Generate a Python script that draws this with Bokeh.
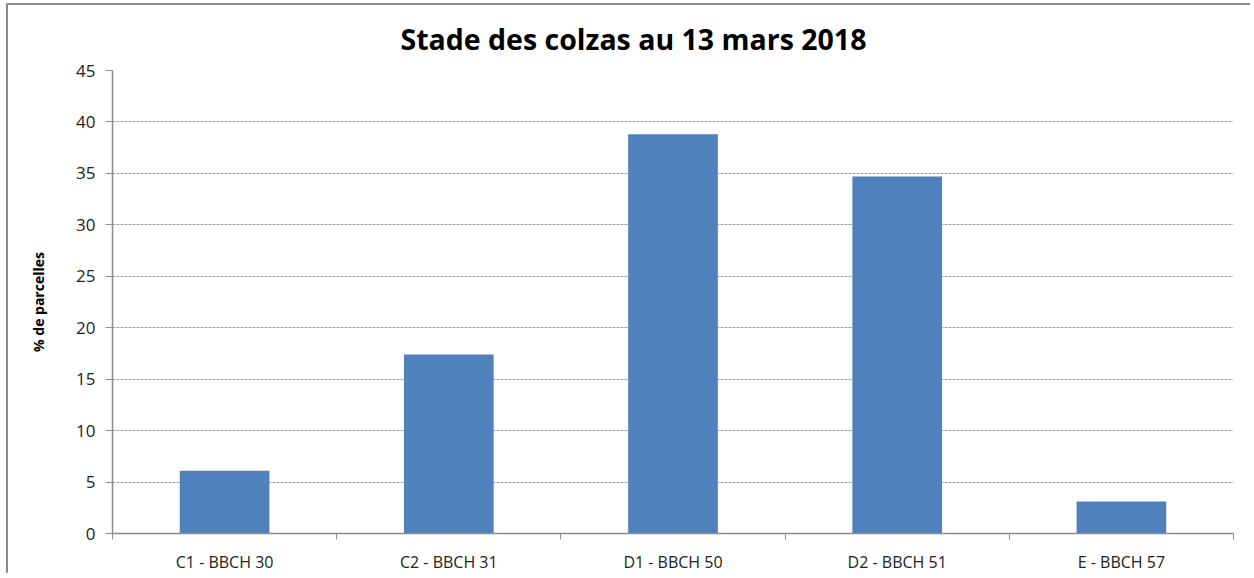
from bokeh.plotting import figure
from bokeh.models import FixedTicker, Range1d, ColumnDataSource
from bokeh.embed import file_html
from bokeh.resources import INLINE

categories = ["C1 - BBCH 30", "C2 - BBCH 31", "D1 - BBCH 50", "D2 - BBCH 51", "E - BBCH 57"]
values = [6.1, 17.4, 38.8, 34.7, 3.1]
y_ticks = [0, 5, 10, 15, 20, 25, 30, 35, 40, 45]
title_text = "Stade des colzas au 13 mars 2018"
y_label = "% de parcelles"

FONT = "Open Sans"
AXIS_GREY = "#8c8c8c"

x_pos = [i + 0.5 for i in range(len(categories))]
src = ColumnDataSource(dict(x=x_pos, top=values, cat=categories))

p = figure(width=1244, height=570, output_backend="svg", toolbar_location=None,
           x_range=Range1d(0, len(categories)), y_range=Range1d(0, 45),
           min_border_left=104, min_border_right=19, min_border_top=65, min_border_bottom=38)

p.vbar(x="x", top="top", width=0.4, source=src, fill_color="#4F81BD", line_color=None)

p.title.text = title_text
p.title.align = "left"
p.title.offset = 288
p.title.standoff = 25
p.title.text_font = FONT
p.title.text_font_size = "28.5px"
p.title.text_font_style = "bold"
p.title.text_color = "#000000"

# x axis: labels at centres, tick marks at category boundaries
xa = p.xaxis[0]
xa.ticker = FixedTicker(ticks=x_pos, minor_ticks=list(range(len(categories) + 1)))
xa.major_label_overrides = {xp: c for xp, c in zip(x_pos, categories)}
xa.major_tick_out = 0
xa.major_tick_in = 0
xa.minor_tick_out = 6
xa.minor_tick_in = 0
xa.minor_tick_line_color = AXIS_GREY
xa.axis_line_color = AXIS_GREY
xa.axis_line_width = 1.5
xa.major_label_text_font = FONT
xa.major_label_text_font_size = "16px"
xa.major_label_text_color = "#222222"
xa.major_label_standoff = 11

ya = p.yaxis[0]
ya.ticker = FixedTicker(ticks=y_ticks)
ya.major_tick_out = 7
ya.major_tick_in = 0
ya.minor_tick_out = 0
ya.minor_tick_in = 0
ya.major_tick_line_color = AXIS_GREY
ya.axis_line_color = AXIS_GREY
ya.axis_line_width = 1.5
ya.major_label_text_font = FONT
ya.major_label_text_font_size = "17px"
ya.major_label_text_color = "#222222"
ya.major_label_standoff = 10
ya.axis_label = y_label
ya.axis_label_text_font = FONT
ya.axis_label_text_font_size = "14px"
ya.axis_label_text_font_style = "bold"
ya.axis_label_text_color = "#000000"
ya.axis_label_standoff = 25

p.xgrid.grid_line_color = None
p.ygrid.ticker = FixedTicker(ticks=y_ticks)
p.ygrid.grid_line_color = "#a0a0a0"
p.ygrid.grid_line_dash = "3 1"
p.ygrid.grid_line_width = 1

p.outline_line_color = None
p.background_fill_color = "white"
p.border_fill_color = "white"
# chart-area frame: only its left and top edges fall inside the picture
p.styles = {"border-left": "2px solid #8c8c8c", "border-top": "2px solid #8c8c8c",
            "border-right": "none", "border-bottom": "none",
            "margin-left": "6px", "margin-top": "3px"}

open("out.html", "w").write(file_html(p, INLINE))
